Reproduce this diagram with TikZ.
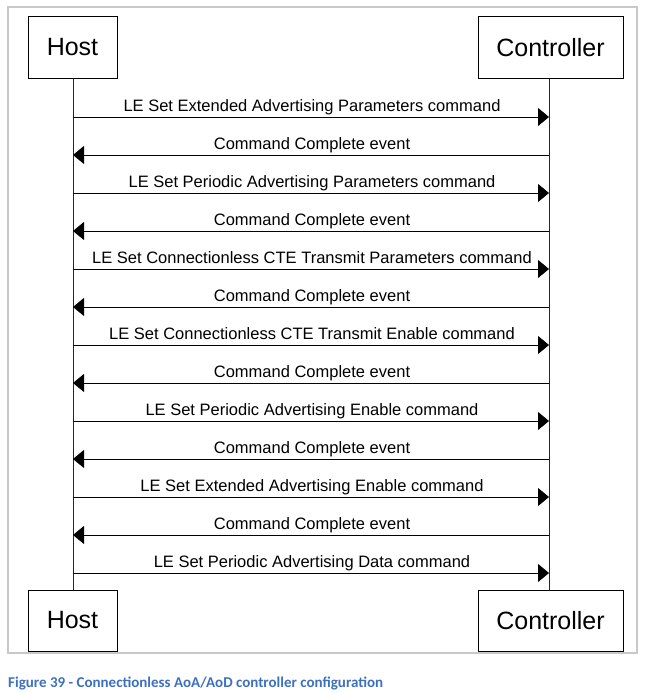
\documentclass[tikz,border=0pt]{standalone}
\usepackage{fontspec}
\setmainfont{Liberation Sans}
\newfontfamily\capfont{Carlito}
\usetikzlibrary{arrows.meta}
\definecolor{capblue}{RGB}{62,112,190}
\definecolor{framegray}{RGB}{200,200,200}
\tikzset{
  actor/.style={draw, line width=1pt, minimum width=89pt, inner sep=0pt, font=\fontsize{25}{28}\selectfont},
  msg/.style={line width=0.8pt, -{Triangle[length=11pt,width=18pt]}},
  msglabel/.style={font=\fontsize{16.5}{18}\selectfont, inner sep=0pt, anchor=base},
  life/.style={line width=0.9pt, draw=black!85}
}
\begin{document}
\begin{tikzpicture}[x=1pt,y=-1pt]
\useasboundingbox (0,0) rectangle (652,693);
\draw[framegray, line width=1.2pt] (8,7) rectangle (637,653);
% actors
\node[actor, minimum width=89pt, minimum height=61pt] (h1) at (72.5,47.5) {Host};
\node[actor, minimum width=145pt, minimum height=61pt] (c1) at (550.5,47.5) {Controller};
\node[actor, minimum width=89pt, minimum height=61pt] (h2) at (72.5,620.5) {Host};
\node[actor, minimum width=145pt, minimum height=61pt] (c2) at (550.5,620.5) {Controller};
\draw[life] (h1.south -| 73,0) -- (h2.north -| 73,0);
\draw[life] (c1.south -| 549,0) -- (c2.north -| 549,0);
% messages
\foreach \i/\t/\dir in {
 0/{LE Set Extended Advertising Parameters command}/r,
 1/{Command Complete event}/l,
 2/{LE Set Periodic Advertising Parameters command}/r,
 3/{Command Complete event}/l,
 4/{LE Set Connectionless CTE Transmit Parameters command}/r,
 5/{Command Complete event}/l,
 6/{LE Set Connectionless CTE Transmit Enable command}/r,
 7/{Command Complete event}/l,
 8/{LE Set Periodic Advertising Enable command}/r,
 9/{Command Complete event}/l,
 10/{LE Set Extended Advertising Enable command}/r,
 11/{Command Complete event}/l,
 12/{LE Set Periodic Advertising Data command}/r}{
  \pgfmathsetmacro{\yy}{117+38*\i}
  \coordinate (L\i) at (73,\yy);
  \coordinate (R\i) at (549,\yy);
  \if r\dir
    \draw[msg] (L\i) -- (R\i);
  \else
    \draw[msg] (R\i) -- (L\i);
  \fi
  \node[msglabel] (t\i) at (312,\yy-6) {\t};
}
\node[anchor=base west, inner sep=0pt, text=capblue, font=\capfont\bfseries\fontsize{15}{17}\selectfont] (cap) at (8,687) {Figure 39 - Connectionless AoA/AoD controller configuration};
\end{tikzpicture}
\end{document}
